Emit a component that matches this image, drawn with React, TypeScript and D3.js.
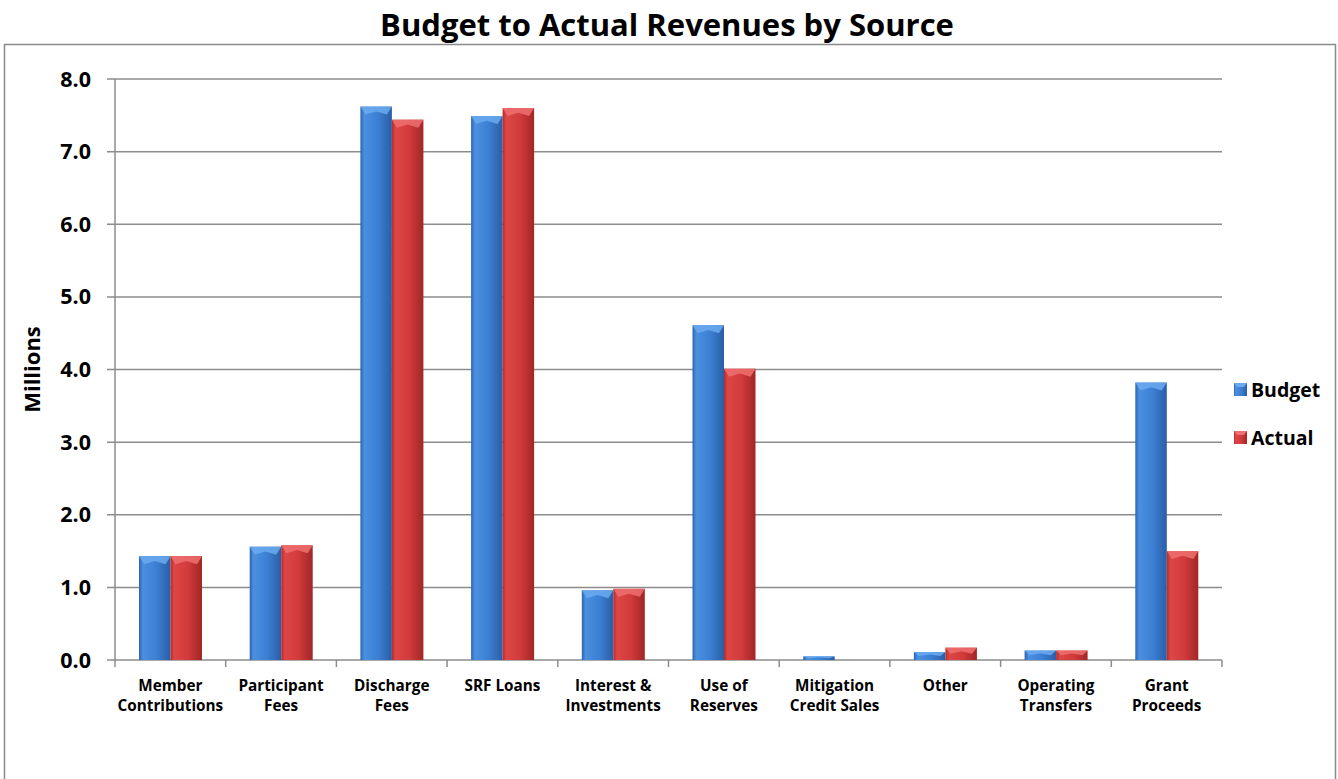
import React from "react";
import * as d3 from "d3";

const categories: string[][] = [
  ["Member", "Contributions"],
  ["Participant", "Fees"],
  ["Discharge", "Fees"],
  ["SRF Loans"],
  ["Interest &", "Investments"],
  ["Use of", "Reserves"],
  ["Mitigation", "Credit Sales"],
  ["Other"],
  ["Operating", "Transfers"],
  ["Grant", "Proceeds"],
];
const budget: number[] = [1.43, 1.56, 7.62, 7.49, 0.96, 4.61, 0.05, 0.11, 0.13, 3.82];
const actual: number[] = [1.43, 1.58, 7.44, 7.6, 0.98, 4.01, 0.0, 0.17, 0.13, 1.5];
const seriesNames = ["Budget", "Actual"];
const yTicks: number[] = [0, 1, 2, 3, 4, 5, 6, 7, 8];

const W = 1338;
const H = 779;
const left = 115;
const right = 1222;
const top = 79;
const bottom = 660;
const FONT = "'Open Sans', 'Liberation Sans', sans-serif";

export default function App() {
  const x0 = d3.scaleBand<number>().domain(categories.map((_, i) => i)).range([left, right]).padding(0);
  const x1 = d3.scaleBand<string>().domain(seriesNames).range([24, 87]).padding(0);
  const y = d3.scaleLinear().domain([0, 8]).range([bottom, top]);
  const values = [budget, actual];
  const grads = ["gBlue", "gRed"];
  const bevels = ["#6aaaf0", "#ee7070"];

  return (
    <svg width={W} height={H} style={{ position: "absolute", left: 0, top: 0, background: "#fff" }}>
      <defs>
        <linearGradient id="gBlue" x1="0" x2="1" y1="0" y2="0">
          <stop offset="0%" stopColor="#2c64b0" />
          <stop offset="12%" stopColor="#4b8fe0" />
          <stop offset="55%" stopColor="#3c80d4" />
          <stop offset="100%" stopColor="#2a5ea6" />
        </linearGradient>
        <linearGradient id="gRed" x1="0" x2="1" y1="0" y2="0">
          <stop offset="0%" stopColor="#b42c2c" />
          <stop offset="12%" stopColor="#de4646" />
          <stop offset="55%" stopColor="#d23b3b" />
          <stop offset="100%" stopColor="#a22626" />
        </linearGradient>
      </defs>
      <rect x={4.5} y={44.5} width={1331} height={740} fill="none" stroke="#8a8a8a" strokeWidth={1.5} />
      <text x={667} y={36} textAnchor="middle" fontFamily={FONT} fontWeight="bold" fontSize={31} fill="#000">
        Budget to Actual Revenues by Source
      </text>

      {yTicks.map((t) => (
        <g key={t}>
          <line x1={left - 8} x2={right} y1={y(t)} y2={y(t)} stroke="#8c8c8c" strokeWidth={1.5} />
          <text x={91} y={y(t) + 7.5} textAnchor="end" fontFamily={FONT} fontWeight="bold" fontSize={21.5} fill="#000">
            {t.toFixed(1)}
          </text>
        </g>
      ))}
      <line x1={left} x2={left} y1={top} y2={bottom} stroke="#8c8c8c" strokeWidth={1.5} />
      {categories.map((_, i) => (
        <line key={i} x1={x0(i)!} x2={x0(i)!} y1={bottom} y2={bottom + 7} stroke="#8c8c8c" strokeWidth={1.5} />
      ))}
      <line x1={right} x2={right} y1={bottom} y2={bottom + 7} stroke="#8c8c8c" strokeWidth={1.5} />

      <text
        transform={`translate(40, ${(top + bottom) / 2}) rotate(-90)`}
        textAnchor="middle"
        fontFamily={FONT}
        fontWeight="bold"
        fontSize={22}
        fill="#000"
      >
        Millions
      </text>

      {categories.map((_, i) =>
        seriesNames.map((s, si) => {
          const v = values[si][i];
          if (v <= 0) return null;
          const bx = x0(i)! + x1(s)!;
          const bw = x1.bandwidth();
          const by = y(v);
          const bh = y(0) - by;
          const bev = Math.min(8, bh / 2);
          return (
            <g key={`${i}-${s}`}>
              <rect x={bx} y={by} width={bw} height={bh} fill={`url(#${grads[si]})`} />
              <polygon
                points={`${bx},${by} ${bx + bw},${by} ${bx + bw - 5},${by + bev} ${bx + bw / 2},${by + bev * 0.6} ${bx + 5},${by + bev}`}
                fill={bevels[si]}
                opacity={0.85}
              />
            </g>
          );
        })
      )}

      {categories.map((lines, i) => (
        <text
          key={i}
          x={x0(i)! + x0.bandwidth() / 2}
          y={691}
          textAnchor="middle"
          fontFamily={FONT}
          fontWeight="bold"
          fontSize={15.3}
          fill="#000"
        >
          {lines.map((l, li) => (
            <tspan key={li} x={x0(i)! + x0.bandwidth() / 2} dy={li === 0 ? 0 : 20}>
              {l}
            </tspan>
          ))}
        </text>
      ))}

      {seriesNames.map((s, si) => (
        <g key={s} transform={`translate(1234, ${383 + si * 48})`}>
          <rect x={0} y={0} width={13} height={13} fill={`url(#${grads[si]})`} />
          <polygon points="0,0 13,0 10,4 3,4" fill={bevels[si]} />
          <text x={17} y={14} fontFamily={FONT} fontWeight="bold" fontSize={19.5} fill="#000">
            {s}
          </text>
        </g>
      ))}
    </svg>
  );
}
